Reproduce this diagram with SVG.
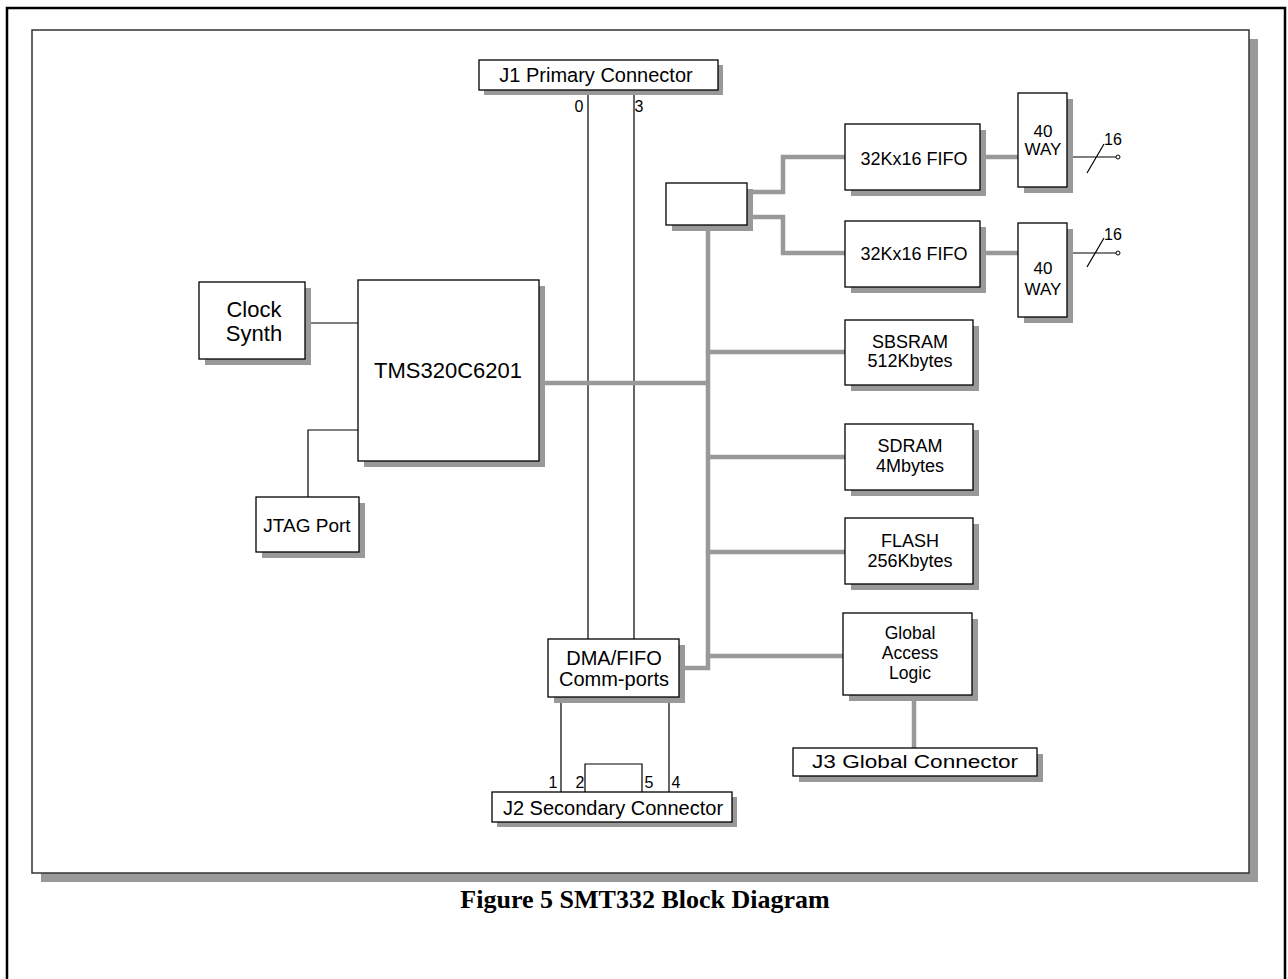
<svg xmlns="http://www.w3.org/2000/svg" width="1288" height="979" viewBox="0 0 1288 979">
<style>
.box{fill:#fff;stroke:#000;stroke-width:1.3}
.sh{fill:#999}
.t{font-family:"Liberation Sans",Arial,sans-serif;fill:#000;text-anchor:middle}
.thin{fill:none;stroke:#000;stroke-width:1.2}
.bus{fill:none;stroke:#999;stroke-width:4.5}
</style>
<rect width="1288" height="979" fill="#fff"/>
<rect x="7" y="8" width="1278" height="990" fill="none" stroke="#000" stroke-width="2.5"/>
<g id="panel">
<rect x="41" y="39" width="1217" height="843" class="sh"/>
<rect x="32" y="30" width="1217" height="843" fill="#fff" stroke="#333" stroke-width="1.5"/>
</g>
<g id="connectors">
<path class="thin" d="M588 90V639M634 90V639"/>
<path class="thin" d="M561 697V792M669 697V792"/>
<path class="thin" d="M585 792V764H642V792"/>
<path class="thin" d="M305 323H358"/>
<path class="thin" d="M358 430H308V497"/>
<path class="bus" d="M545 383H709"/>
<path class="bus" d="M708 225V668H685"/>
<path class="bus" d="M709 352H845M709 457H845M709 552H845M709 656H843"/>
<path class="bus" d="M753 192H783V157H845M753 217H783V253H845"/>
<path class="bus" d="M986 157H1018M986 253H1018"/>
<path class="bus" d="M914 701V748"/>
<path class="thin" d="M1067 157H1116M1087 173L1104 144M1067 253H1116M1087 267L1104 238"/>
<circle cx="1118" cy="157" r="2" fill="#fff" stroke="#000" stroke-width="1"/>
<circle cx="1118" cy="253" r="2" fill="#fff" stroke="#000" stroke-width="1"/>
</g>
<g id="j1">
<rect x="484" y="65" width="239" height="30" class="sh"/>
<rect x="479" y="60" width="239" height="30" class="box"/>
<text x="596" y="82" class="t" font-size="20">J1 Primary Connector</text>
<text x="579" y="112" class="t" font-size="16">0</text>
<text x="639" y="112" class="t" font-size="16">3</text>
</g>
<g id="mux">
<rect x="672" y="189" width="81" height="42" class="sh"/>
<rect x="666" y="183" width="81" height="42" class="box"/>
</g>
<g id="fifo1">
<rect x="851" y="130" width="135" height="66" class="sh"/>
<rect x="845" y="124" width="135" height="66" class="box"/>
<text x="914" y="165" class="t" font-size="18">32Kx16 FIFO</text>
</g>
<g id="fifo2">
<rect x="851" y="227" width="135" height="66" class="sh"/>
<rect x="845" y="221" width="135" height="66" class="box"/>
<text x="914" y="260" class="t" font-size="18">32Kx16 FIFO</text>
</g>
<g id="way1">
<rect x="1024" y="99" width="49" height="94" class="sh"/>
<rect x="1018" y="93" width="49" height="94" class="box"/>
<text x="1043" y="137" class="t" font-size="17">40</text>
<text x="1043" y="155" class="t" font-size="17">WAY</text>
<text x="1113" y="145" class="t" font-size="16">16</text>
</g>
<g id="way2">
<rect x="1024" y="229" width="49" height="94" class="sh"/>
<rect x="1018" y="223" width="49" height="94" class="box"/>
<text x="1043" y="274" class="t" font-size="17">40</text>
<text x="1043" y="295" class="t" font-size="17">WAY</text>
<text x="1113" y="240" class="t" font-size="16">16</text>
</g>
<g id="clock">
<rect x="205" y="288" width="106" height="77" class="sh"/>
<rect x="199" y="282" width="106" height="77" class="box"/>
<text x="254" y="317" class="t" font-size="22">Clock</text>
<text x="254" y="341" class="t" font-size="22">Synth</text>
</g>
<g id="tms">
<rect x="364" y="286" width="181" height="181" class="sh"/>
<rect x="358" y="280" width="181" height="181" class="box"/>
<text x="448" y="378" class="t" font-size="22">TMS320C6201</text>
</g>
<g id="jtag">
<rect x="262" y="503" width="103" height="55" class="sh"/>
<rect x="256" y="497" width="103" height="55" class="box"/>
<text x="307" y="532" class="t" font-size="19">JTAG Port</text>
</g>
<g id="sbsram">
<rect x="851" y="326" width="128" height="65" class="sh"/>
<rect x="845" y="320" width="128" height="65" class="box"/>
<text x="910" y="348" class="t" font-size="18">SBSRAM</text>
<text x="910" y="367" class="t" font-size="18">512Kbytes</text>
</g>
<g id="sdram">
<rect x="851" y="430" width="128" height="66" class="sh"/>
<rect x="845" y="424" width="128" height="66" class="box"/>
<text x="910" y="452" class="t" font-size="18">SDRAM</text>
<text x="910" y="472" class="t" font-size="18">4Mbytes</text>
</g>
<g id="flash">
<rect x="851" y="524" width="128" height="66" class="sh"/>
<rect x="845" y="518" width="128" height="66" class="box"/>
<text x="910" y="547" class="t" font-size="18">FLASH</text>
<text x="910" y="567" class="t" font-size="18">256Kbytes</text>
</g>
<g id="global">
<rect x="849" y="619" width="129" height="82" class="sh"/>
<rect x="843" y="613" width="129" height="82" class="box"/>
<text x="910" y="639" class="t" font-size="17.5">Global</text>
<text x="910" y="659" class="t" font-size="17.5">Access</text>
<text x="910" y="679" class="t" font-size="17.5">Logic</text>
</g>
<g id="j3">
<rect x="799" y="754" width="244" height="28" class="sh"/>
<rect x="793" y="748" width="244" height="28" class="box"/>
<text x="915" y="768" class="t" font-size="18" textLength="206" lengthAdjust="spacingAndGlyphs">J3 Global Connector</text>
</g>
<g id="dma">
<rect x="554" y="645" width="131" height="58" class="sh"/>
<rect x="548" y="639" width="131" height="58" class="box"/>
<text x="614" y="665" class="t" font-size="20">DMA/FIFO</text>
<text x="614" y="686" class="t" font-size="20">Comm-ports</text>
</g>
<g id="j2">
<rect x="497" y="797" width="240" height="30" class="sh"/>
<rect x="492" y="792" width="240" height="30" class="box"/>
<text x="613" y="815" class="t" font-size="20">J2 Secondary Connector</text>
<text x="553" y="788" class="t" font-size="16">1</text>
<text x="580" y="788" class="t" font-size="16">2</text>
<text x="649" y="788" class="t" font-size="16">5</text>
<text x="676" y="788" class="t" font-size="16">4</text>
</g>
<text x="645" y="908" font-family="'Liberation Serif','Times New Roman',serif" font-weight="bold" font-size="26" text-anchor="middle">Figure 5 SMT332 Block Diagram</text>
</svg>
